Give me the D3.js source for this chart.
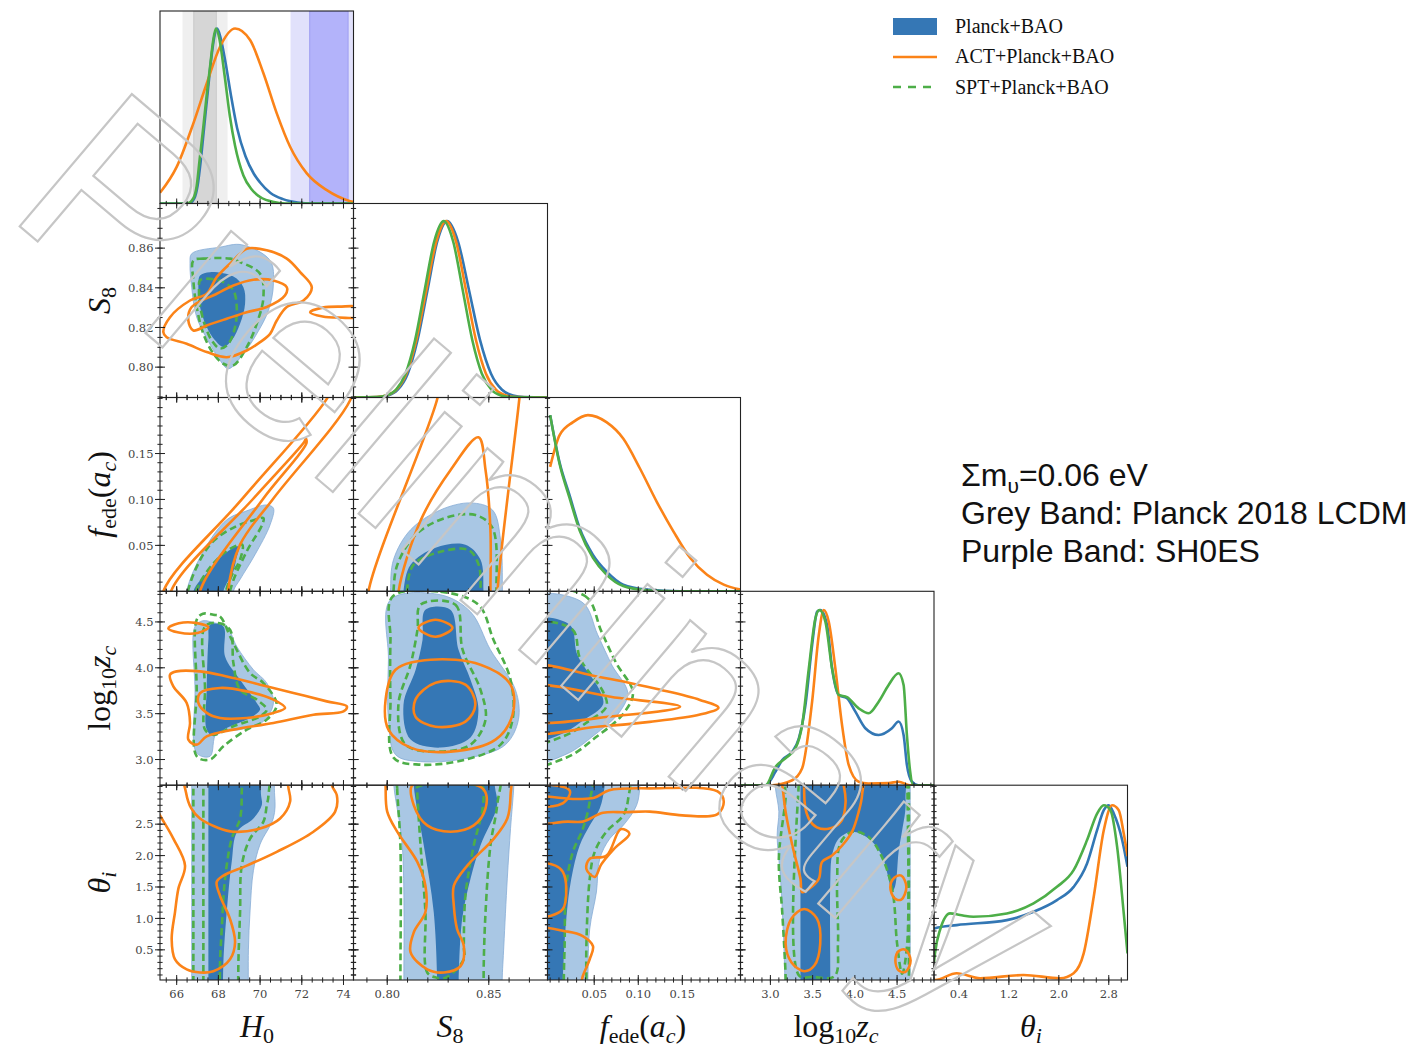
<!DOCTYPE html>
<html>
<head>
<meta charset="utf-8">
<script src="https://cdn.jsdelivr.net/npm/d3@7"></script>
<style>body{margin:0;background:#fff}</style>
</head>
<body>
<script>
// ---------- 1D marginals: [value, normalised density] ----------
var h0Blue = [[65.2,0],[66.6,0],[66.85,0.03],[67.0,0.1],[67.15,0.24],[67.32,0.44],[67.5,0.65],[67.65,0.82],[67.8,0.95],[67.94,1.0],[68.1,0.95],[68.35,0.8],[68.6,0.62],[68.9,0.43],[69.3,0.27],[69.7,0.17],[70.0,0.12],[70.5,0.06],[71.1,0.025],[71.8,0.006],[72.5,0],[74.5,0]];
var h0Orange = [[65.2,0.061],[66.0,0.209],[66.8,0.458],[67.44,0.686],[68.08,0.896],[68.8,1.0],[69.52,0.934],[70.16,0.744],[70.8,0.515],[71.44,0.324],[72.24,0.172],[73.2,0.076],[74.32,0.013],[74.48,0.008]];
var h0Green = [[65.2,0],[66.5,0],[66.8,0.03],[66.96,0.1],[67.1,0.25],[67.28,0.44],[67.45,0.63],[67.6,0.78],[67.75,0.93],[67.88,1.0],[68.05,0.94],[68.3,0.73],[68.55,0.5],[68.8,0.33],[69.2,0.16],[69.6,0.08],[70.1,0.03],[70.6,0.01],[71.2,0],[74.5,0]];

var s8Blue = [[0.7834,0],[0.7955,0.002],[0.8004,0.011],[0.8052,0.044],[0.8101,0.135],[0.8149,0.325],[0.8198,0.607],[0.8246,0.883],[0.8295,1.0],[0.8349,0.883],[0.8403,0.607],[0.8457,0.325],[0.8511,0.135],[0.8565,0.044],[0.8619,0.011],[0.8673,0.002],[0.8789,0]];
var s8Orange = [[0.7834,0],[0.7947,0.002],[0.7996,0.011],[0.8045,0.044],[0.8094,0.135],[0.8143,0.325],[0.8192,0.607],[0.8241,0.883],[0.8290,1.0],[0.8339,0.883],[0.8388,0.607],[0.8437,0.325],[0.8486,0.135],[0.8535,0.044],[0.8584,0.011],[0.8633,0.002],[0.8789,0]];
var s8Green = [[0.7834,0],[0.7950,0.002],[0.7996,0.011],[0.8043,0.044],[0.8090,0.135],[0.8137,0.325],[0.8184,0.607],[0.8231,0.883],[0.8278,1.0],[0.8325,0.883],[0.8372,0.607],[0.8419,0.325],[0.8466,0.135],[0.8513,0.044],[0.8560,0.011],[0.8607,0.002],[0.8789,0]];

var fedeBlue = [[0,1.0],[0.0106,0.734],[0.022,0.546],[0.0335,0.358],[0.0486,0.207],[0.0639,0.113],[0.0829,0.038],[0.1095,0.01],[0.1475,0.0],[0.216,0]];
var fedeOrange = [[0,0.706],[0.0106,0.885],[0.026,0.96],[0.0429,1.0],[0.0639,0.96],[0.0829,0.867],[0.1019,0.697],[0.121,0.508],[0.140,0.339],[0.159,0.189],[0.178,0.094],[0.197,0.038],[0.216,0.01]];
var fedeGreen = [[0,1.0],[0.0106,0.725],[0.022,0.53],[0.0335,0.345],[0.0486,0.19],[0.0639,0.095],[0.0829,0.03],[0.1095,0.006],[0.14,0.0],[0.216,0]];

var zcBlue = [[2.646,0],[2.943,0],[3.061,0.077],[3.14,0.143],[3.258,0.19],[3.337,0.266],[3.415,0.455],[3.494,0.795],[3.553,0.984],[3.592,0.994],[3.671,0.909],[3.73,0.663],[3.809,0.512],[3.907,0.493],[4.006,0.417],[4.124,0.323],[4.282,0.285],[4.439,0.323],[4.518,0.361],[4.577,0.285],[4.616,0.115],[4.675,0.02],[4.75,0],[4.937,0]];
var zcOrange = [[2.646,0],[3.02,0],[3.258,0.028],[3.376,0.096],[3.494,0.474],[3.573,0.852],[3.632,0.994],[3.691,0.927],[3.769,0.663],[3.848,0.342],[3.927,0.115],[4.045,0.02],[4.16,0.01],[4.40,0.012],[4.518,0.02],[4.65,0],[4.937,0]];
var zcGreen = [[2.646,0],[2.943,0],[3.061,0.105],[3.179,0.153],[3.297,0.21],[3.376,0.342],[3.455,0.663],[3.533,0.947],[3.58,0.994],[3.651,0.927],[3.73,0.663],[3.809,0.512],[3.907,0.50],[4.045,0.436],[4.164,0.408],[4.282,0.474],[4.40,0.569],[4.518,0.635],[4.577,0.569],[4.616,0.285],[4.655,0.077],[4.69,0],[4.937,0]];

var thBlue = [[0,0.29],[0.016,0.292],[0.364,0.31],[1.167,0.338],[1.595,0.385],[1.97,0.451],[2.237,0.526],[2.452,0.658],[2.613,0.846],[2.72,0.959],[2.80,0.987],[2.88,0.94],[3.015,0.79],[3.1,0.64]];
var thOrange = [[0,0],[0.016,0],[0.364,0.038],[0.739,0.01],[1.434,0.028],[2.024,0.01],[2.237,0.038],[2.398,0.15],[2.559,0.47],[2.72,0.846],[2.854,0.987],[2.96,0.959],[3.04,0.827],[3.1,0.70]];
var thGreen = [[0,0.1],[0.016,0.15],[0.096,0.282],[0.257,0.376],[0.418,0.367],[0.631,0.357],[1.167,0.376],[1.595,0.433],[1.97,0.526],[2.237,0.62],[2.452,0.79],[2.613,0.94],[2.72,0.987],[2.827,0.959],[2.934,0.752],[3.04,0.376],[3.1,0.15]];

// H0 bands: [mean, sigma]
var planckBand = [67.36, 0.54];
var sh0esBand = [73.3, 0.92];

// ---------- 2D contours: [x, y] closed curves ----------
// H0 - S8
var h0s8Blue = [
  [[66.72,0.8572],[68.08,0.8605],[69.12,0.8617],[70.48,0.8538],[70.64,0.8421],[70.40,0.8286],[69.84,0.8168],[69.20,0.8068],[68.48,0.7992],[68.08,0.8034],[67.68,0.8101],[66.96,0.8252],[66.72,0.8403],[66.64,0.8521]],
  [[67.12,0.8462],[67.60,0.8479],[68.72,0.8457],[69.20,0.8403],[69.28,0.8320],[69.04,0.8219],[68.64,0.8135],[68.24,0.8101],[67.84,0.8135],[67.44,0.8202],[67.12,0.8303],[67.04,0.8403]]];
var h0s8Green = [
  [[66.80,0.8538],[67.28,0.8547],[68.56,0.8547],[69.04,0.8530],[70.00,0.8471],[70.16,0.8353],[69.84,0.8219],[69.36,0.8101],[68.72,0.8009],[68.24,0.8017],[67.76,0.8068],[67.28,0.8168],[66.96,0.8303],[66.80,0.8437]],
  [[67.12,0.8437],[67.44,0.8446],[68.24,0.8429],[68.72,0.8387],[68.88,0.8303],[68.80,0.8202],[68.48,0.8118],[68.08,0.8094],[67.68,0.8135],[67.36,0.8210],[67.12,0.8311],[67.07,0.8387]]];
var h0s8Orange = [
  [[65.36,0.8177],[65.68,0.8252],[66.64,0.8336],[67.44,0.8370],[67.92,0.8454],[68.72,0.8538],[69.36,0.8597],[70.32,0.8589],[71.28,0.8547],[71.92,0.8479],[72.48,0.8403],[72.08,0.8336],[71.28,0.8303],[70.80,0.8235],[70.48,0.8168],[70.00,0.8126],[69.36,0.8084],[68.40,0.8050],[67.44,0.8076],[66.48,0.8118],[65.52,0.8151]],
  [[66.72,0.8303],[67.92,0.8370],[68.72,0.8412],[69.68,0.8441],[70.64,0.8437],[71.28,0.8403],[71.20,0.8362],[70.32,0.8303],[69.36,0.8277],[68.40,0.8244],[67.44,0.8210],[66.80,0.8185],[66.56,0.8235]],
  [[72.4,0.8277],[73.0,0.8300],[73.8,0.8305],[74.8,0.8300],[74.8,0.8255],[73.8,0.8250],[73.0,0.8255]]];

// H0 - fede
var h0FedeBlue = [
  [[66.48,-0.03],[66.48,0.0],[67.28,0.0435],[68.40,0.0778],[69.36,0.0876],[70.32,0.094],[70.64,0.0905],[70.48,0.0724],[69.76,0.040],[69.04,0.0129],[68.72,0.0],[68.72,-0.03]],
  [[66.80,-0.03],[66.80,0.0],[67.60,0.0237],[68.24,0.040],[68.96,0.0489],[68.85,0.0345],[68.72,0.0219],[68.24,0.0],[68.24,-0.03]]];
var h0FedeGreen = [
  [[66.54,-0.03],[66.54,0.0],[67.60,0.0508],[68.80,0.0702],[69.76,0.0778],[70.16,0.0797],[70.10,0.0724],[69.36,0.0435],[68.56,0.0],[68.56,-0.03]],
  [[66.93,-0.03],[66.93,0.0],[68.18,0.040],[69.14,0.0508],[69.04,0.0345],[68.66,0.0183],[68.37,0.0],[68.37,-0.03]]];
var h0FedeOrange = [
  [[65.36,-0.03],[65.36,0.0],[69.12,0.1],[73.20,0.2095],[73.7,0.235],[74.6,0.235],[74.32,0.208],[70.62,0.1005],[69.04,0.0508],[68.46,0.0],[68.46,-0.03]],
  [[65.73,-0.03],[65.73,0.0],[69.66,0.1005],[72.1,0.162],[72.2,0.166],[72.22,0.161],[70.14,0.1005],[67.12,0.0],[67.12,-0.03]]];

// H0 - log10 zc
var h0zcBlue = [
  [[67.84,4.488],[68.40,4.451],[68.88,4.233],[69.68,3.979],[70.32,3.834],[70.64,3.617],[70.16,3.416],[69.04,3.326],[67.92,3.290],[67.60,3.035],[66.96,3.071],[66.88,3.761],[66.88,4.451],[67.26,4.513]],
  [[67.60,4.469],[68.24,4.451],[68.32,4.124],[69.04,3.870],[69.84,3.617],[70.00,3.544],[69.52,3.453],[68.40,3.344],[67.76,3.253],[67.44,3.326],[67.44,3.761],[67.52,4.306]]];
var h0zcGreen = [
  [[67.76,4.578],[68.08,4.560],[68.64,4.306],[69.52,3.943],[70.16,3.834],[70.80,3.598],[70.32,3.435],[69.36,3.326],[68.24,3.144],[67.60,3.0],[66.96,3.035],[66.96,3.761],[66.96,4.524],[67.26,4.59]],
  [[67.36,4.451],[68.00,4.488],[68.56,4.415],[68.72,4.052],[69.04,3.761],[69.84,3.653],[70.32,3.544],[70.00,3.471],[68.72,3.362],[67.76,3.271],[67.36,3.326],[67.36,3.761]]];
var h0zcOrange = [
  [[65.68,3.925],[65.84,3.797],[66.48,3.617],[66.64,3.399],[66.56,3.217],[66.96,3.162],[67.44,3.253],[68.72,3.326],[70.64,3.399],[72.56,3.489],[74.0,3.525],[74.16,3.580],[73.20,3.634],[71.60,3.726],[70.00,3.816],[68.40,3.906],[67.12,3.961],[66.0,3.961]],
  [[67.12,3.725],[68.08,3.780],[69.36,3.743],[70.64,3.653],[71.20,3.562],[70.64,3.508],[69.36,3.453],[68.08,3.453],[67.44,3.508],[67.04,3.617]],
  [[65.60,4.43],[66.1,4.485],[66.9,4.49],[67.52,4.44],[67.0,4.38],[66.1,4.385]]];

// H0 - theta
var h0thBlue = [
  [[66.72,-0.3],[66.72,-0.2],[66.72,3.3],[66.72,3.4],[70.4,3.4],[70.7,2.95],[70.64,2.6],[70.0,2.18],[69.68,1.76],[69.52,1.12],[69.44,0.5],[69.44,-0.2],[69.44,-0.3]],
  [[67.52,-0.3],[67.52,-0.2],[67.52,3.3],[67.52,3.4],[69.8,3.4],[70.05,2.95],[70.08,2.8],[69.68,2.59],[68.9,2.38],[68.64,1.9],[68.40,1.1],[68.24,0.3],[68.22,-0.2],[68.22,-0.3]]];
var h0thGreen = [
  [[66.80,-0.3],[66.80,-0.2],[66.80,3.3],[66.80,3.4],[70.3,3.4],[70.4,2.95],[70.32,2.8],[70.16,2.54],[69.52,2.27],[69.12,1.84],[69.04,1.10],[68.96,0.3],[68.95,-0.2],[68.95,-0.3]],
  [[67.28,-0.3],[67.28,-0.2],[67.28,3.3],[67.28,3.4],[69.1,3.4],[69.12,3.02],[69.04,2.59],[68.64,2.27],[68.32,1.63],[68.16,0.83],[68.08,0.3],[68.07,-0.2],[68.07,-0.3]]];
var h0thOrange = [
  [[73.44,3.12],[73.68,2.96],[73.60,2.70],[72.56,2.38],[70.80,2.06],[69.36,1.84],[68.24,1.68],[67.92,1.58],[68.08,1.36],[68.56,0.99],[68.80,0.62],[68.56,0.35],[67.76,0.16],[67.12,0.14],[66.48,0.19],[65.92,0.35],[65.76,0.67],[65.92,1.10],[66.08,1.47],[66.40,1.84],[65.84,2.27],[65.2,2.64],[64.6,3.0],[64.6,3.5],[73.4,3.5]],
  [[66.4,3.4],[66.45,3.0],[66.7,2.75],[67.12,2.59],[68.0,2.44],[68.72,2.38],[70.0,2.43],[70.96,2.59],[71.44,2.86],[71.35,3.1],[71.3,3.4]]];

// S8 - fede
var s8FedeBlue = [
  [[0.8016,-0.03],[0.8016,0.0],[0.8031,0.0345],[0.8115,0.067],[0.8262,0.0886],[0.8410,0.0962],[0.8518,0.0886],[0.8558,0.056],[0.8567,0.0],[0.8567,-0.03]],
  [[0.8080,-0.03],[0.8080,0.0],[0.8115,0.029],[0.8238,0.0475],[0.8385,0.0508],[0.8459,0.0345],[0.8474,0.0],[0.8474,-0.03]]];
var s8FedeGreen = [
  [[0.8031,-0.03],[0.8031,0.0],[0.805,0.029],[0.814,0.0616],[0.8287,0.080],[0.8435,0.083],[0.8518,0.069],[0.8538,0.0],[0.8538,-0.03]],
  [[0.8097,-0.03],[0.8097,0.0],[0.813,0.029],[0.8262,0.043],[0.840,0.045],[0.845,0.029],[0.846,0.0],[0.846,-0.03]]];
var s8FedeOrange = [
  [[0.7908,-0.03],[0.7908,0.0],[0.8248,0.211],[0.826,0.235],[0.866,0.235],[0.8651,0.211],[0.8543,0.0],[0.8543,-0.03]],
  [[0.8056,-0.03],[0.8056,0.0],[0.8166,0.0778],[0.8312,0.132],[0.8449,0.1676],[0.8484,0.132],[0.8508,0.067],[0.8508,0.0],[0.8508,-0.03]]];

// S8 - log10 zc
var s8zcBlue = [
  [[0.8016,4.742],[0.8262,4.796],[0.8410,4.611],[0.8508,4.197],[0.8631,3.761],[0.8646,3.435],[0.8582,3.162],[0.8410,3.021],[0.8164,2.977],[0.8041,3.053],[0.8006,3.435],[0.8006,4.088]],
  [[0.8188,4.633],[0.8311,4.633],[0.8351,4.197],[0.8410,3.870],[0.8449,3.544],[0.8410,3.239],[0.8262,3.130],[0.8115,3.217],[0.8080,3.598],[0.8140,3.979],[0.8174,4.306]]];
var s8zcGreen = [
  [[0.8026,4.775],[0.8262,4.829],[0.8449,4.687],[0.8523,4.306],[0.8607,3.870],[0.8617,3.435],[0.8558,3.162],[0.8385,2.999],[0.8164,2.944],[0.8031,3.021],[0.8016,3.653],[0.8016,4.306]],
  [[0.8164,4.687],[0.8336,4.687],[0.8371,4.197],[0.8459,3.761],[0.8484,3.435],[0.8410,3.162],[0.8262,3.086],[0.8090,3.162],[0.8055,3.598],[0.8115,4.034],[0.8149,4.415]]];
var s8zcOrange = [
  [[0.7992,3.653],[0.8041,3.979],[0.8213,4.088],[0.8459,4.034],[0.8607,3.816],[0.8617,3.489],[0.8533,3.217],[0.8311,3.086],[0.8115,3.130],[0.8006,3.326]],
  [[0.8154,4.437],[0.8238,4.524],[0.8321,4.437],[0.8238,4.339]],
  [[0.8139,3.653],[0.8238,3.838],[0.8385,3.816],[0.8434,3.598],[0.8385,3.413],[0.8238,3.358],[0.8139,3.467]]];

// S8 - theta
var s8thBlue = [
  [[0.8030,3.4],[0.8033,3.1],[0.8074,2.16],[0.8082,0.03],[0.8082,-0.2],[0.8082,-0.3],[0.8566,-0.3],[0.8566,-0.2],[0.8566,0.03],[0.8574,0.56],[0.8591,1.63],[0.8607,2.43],[0.8623,3.1],[0.8625,3.4]],
  [[0.8131,3.4],[0.8131,3.1],[0.8180,2.16],[0.8229,1.10],[0.8246,0.03],[0.8246,-0.2],[0.8246,-0.3],[0.8352,-0.3],[0.8352,-0.2],[0.8352,0.03],[0.8369,0.99],[0.8410,1.63],[0.8459,2.16],[0.8541,2.80],[0.8530,3.1],[0.8525,3.4]]];
var s8thGreen = [
  [[0.8049,3.4],[0.8049,3.07],[0.8065,2.16],[0.8065,0.14],[0.8065,-0.2],[0.8065,-0.3],[0.8475,-0.3],[0.8475,-0.2],[0.8475,0.24],[0.8484,1.10],[0.8508,2.16],[0.8541,2.80],[0.8545,3.4]],
  [[0.8148,3.09],[0.8148,3.0],[0.8164,2.16],[0.8188,1.10],[0.8197,0.14],[0.8240,0.06],[0.8290,0.06],[0.8377,0.35],[0.8377,0.56],[0.8385,1.36],[0.8426,2.16],[0.8467,2.70],[0.8475,3.0],[0.8470,3.09]]];
var s8thOrange = [
  [[0.7990,3.4],[0.7992,3.12],[0.8000,2.70],[0.8049,2.38],[0.8148,1.90],[0.8188,1.52],[0.8188,1.10],[0.8131,0.78],[0.8115,0.46],[0.8197,0.19],[0.8279,0.14],[0.8361,0.24],[0.8377,0.56],[0.8344,0.83],[0.8328,1.20],[0.8328,1.52],[0.8394,1.84],[0.8525,2.27],[0.8591,2.59],[0.8607,2.96],[0.8595,3.4]],
  [[0.8123,3.12],[0.8131,2.80],[0.8197,2.48],[0.8312,2.38],[0.8426,2.48],[0.8484,2.75],[0.8475,3.05],[0.8300,3.2]]];

// fede - log10 zc
var fedeZcBlue = [
  [[-0.03,4.74],[0.0357,4.72],[0.054,4.36],[0.070,4.03],[0.088,3.73],[0.079,3.52],[0.0506,3.27],[0.0164,3.05],[-0.03,2.97]],
  [[-0.03,4.5],[0.022,4.47],[0.031,4.14],[0.056,3.76],[0.060,3.60],[0.039,3.435],[0.011,3.27],[-0.03,3.195]]];
var fedeZcGreen = [
  [[-0.03,4.80],[0.04,4.78],[0.058,4.40],[0.075,4.05],[0.094,3.73],[0.083,3.50],[0.053,3.25],[0.018,3.02],[-0.03,2.95]],
  [[-0.03,4.45],[0.025,4.42],[0.034,4.10],[0.060,3.74],[0.064,3.58],[0.044,3.42],[0.014,3.25],[-0.03,3.18]]];
var fedeZcOrange = [
  [[-0.03,4.0],[0.056,3.90],[0.125,3.76],[0.170,3.65],[0.191,3.565],[0.170,3.49],[0.113,3.41],[0.056,3.36],[-0.03,3.33]],
  [[-0.03,3.78],[0.079,3.67],[0.1475,3.576],[0.079,3.48],[-0.03,3.45]]];

// fede - theta
var fedeThBlue = [
  [[-0.03,-0.3],[-0.03,-0.2],[-0.03,3.3],[-0.03,3.4],[0.102,3.4],[0.1019,3.12],[0.0981,2.80],[0.0829,2.48],[0.0677,2.27],[0.0563,1.95],[0.0525,1.42],[0.0449,0.83],[0.0429,0.03],[0.0429,-0.2],[0.0429,-0.3]],
  [[-0.03,-0.3],[-0.03,-0.2],[-0.03,3.3],[-0.03,3.4],[0.063,3.4],[0.062,3.12],[0.0563,2.75],[0.0449,2.48],[0.0335,2.16],[0.024,1.63],[0.0183,0.99],[0.0145,0.03],[0.0145,-0.2],[0.0145,-0.3]]];
var fedeThGreen = [
  [[-0.03,-0.3],[-0.03,-0.2],[-0.03,3.3],[-0.03,3.4],[0.088,3.4],[0.0886,2.91],[0.0829,2.64],[0.0639,2.38],[0.0506,2.06],[0.0449,1.63],[0.0411,0.56],[0.0411,0.03],[0.0411,-0.2],[0.0411,-0.3]],
  [[-0.03,-0.3],[-0.03,-0.2],[-0.03,3.3],[-0.03,3.4],[0.046,3.4],[0.0449,2.86],[0.0372,2.43],[0.0258,2.06],[0.0183,1.52],[0.0164,0.56],[0.0155,0.03],[0.0155,-0.2],[0.0155,-0.3]]];
var fedeThOrange = [
  [[-0.03,2.53],[0.02,2.54],[0.037,2.54],[0.06,2.68],[0.085,2.69],[0.113,2.70],[0.15,2.64],[0.19,2.66],[0.197,2.86],[0.19,3.02],[0.113,3.07],[0.067,3.04],[0.05,2.92],[0.03,2.9],[-0.03,2.9]],
  [[-0.03,1.86],[0.006,1.84],[0.0144,1.74],[0.0183,1.47],[0.0144,1.15],[0.0,1.04],[-0.03,1.03]],
  [[-0.03,0.81],[0.02,0.79],[0.037,0.72],[0.0486,0.56],[0.0449,0.35],[0.037,0.08],[0.03,-0.3],[-0.03,-0.3]],
  [[-0.03,3.10],[0.022,3.04],[0.0183,2.88],[0.0088,2.80],[-0.03,2.83]],
  [[0.064,2.0],[0.045,1.95],[0.041,1.79],[0.0506,1.66],[0.058,1.86],[0.072,2.1],[0.09,2.35],[0.08,2.42]]];

// log10 zc - theta
var zcThBlue = [
  [[3.05,3.4],[3.06,3.07],[3.10,2.70],[3.08,2.32],[3.12,1.63],[3.16,0.56],[3.17,0.03],[3.17,-0.2],[3.17,-0.3],[4.655,-0.3],[4.655,-0.2],[4.655,3.3],[4.655,3.4]],
  [[3.356,-0.3],[3.356,-0.2],[3.356,3.3],[3.356,3.4],[4.55,3.4],[4.60,2.9],[4.596,2.70],[4.557,2.38],[4.518,2.06],[4.478,1.52],[4.439,1.42],[4.40,1.63],[4.32,2.0],[4.164,2.27],[3.967,2.38],[3.81,2.27],[3.73,2.0],[3.71,1.63],[3.71,0.03],[3.71,-0.2],[3.71,-0.3]]];
var zcThGreen = [
  [[3.20,3.4],[3.18,2.91],[3.10,1.95],[3.14,1.10],[3.18,0.08],[3.18,-0.2],[3.18,-0.3],[4.64,-0.3],[4.64,-0.2],[4.64,3.3],[4.64,3.4]],
  [[3.34,3.4],[3.34,3.3],[3.34,0.09],[3.5,0.07],[3.76,0.08],[3.80,0.6],[3.79,1.6],[3.83,2.2],[3.97,2.38],[4.16,2.3],[4.33,1.95],[4.45,1.4],[4.5,0.6],[4.56,0.12],[4.62,0.6],[4.62,3.3],[4.62,3.4]]];
var zcThOrange = [
  [[3.10,3.4],[3.14,3.12],[3.18,2.70],[3.26,2.16],[3.356,1.63],[3.376,1.42],[3.455,1.47],[3.573,1.63],[3.612,1.90],[3.73,2.0],[3.85,2.16],[3.967,2.38],[4.046,2.70],[4.085,2.96],[4.07,3.4]],
  [[3.18,0.6],[3.25,1.0],[3.40,1.15],[3.55,1.0],[3.59,0.6],[3.52,0.25],[3.40,0.16],[3.25,0.3]],
  [[4.42,1.5],[4.47,1.65],[4.55,1.68],[4.61,1.5],[4.55,1.30],[4.47,1.32]],
  [[4.48,0.33],[4.52,0.48],[4.60,0.50],[4.66,0.33],[4.60,0.15],[4.52,0.17]],
  [[3.40,3.0],[3.45,2.6],[3.55,2.45],[3.70,2.43],[3.84,2.55],[3.89,2.85],[3.87,3.1],[3.8,3.4],[3.45,3.4]]];

// ---------- axes ----------
var xDomains = [[65.2,74.48],[0.7834,0.8789],[-0.003,0.216],[2.646,4.937],[0,3.1]];
var yDomains = [null,[0.7847,0.8825],[0,0.211],[2.72,4.834],[0.02,3.12]];
var xTickVals = [[66,68,70,72,74],[0.80,0.85],[0.05,0.10,0.15],[3.0,3.5,4.0,4.5],[0.4,1.2,2.0,2.8]];
var yTickVals = [null,[0.80,0.82,0.84,0.86],[0.05,0.10,0.15],[3.0,3.5,4.0,4.5],[0.5,1.0,1.5,2.0,2.5]];
var xMinor = [0.5,0.01,0.01,0.1,0.2];
var yMinor = [null,0.005,0.01,0.1,0.1];
var xFmt = ["d",".2f",".2f",".1f",".1f"];
var yFmt = [null,".2f",".2f",".1f",".1f"];
var legendNames = ["Planck+BAO","ACT+Planck+BAO","SPT+Planck+BAO"];

var colEdges = [160, 353.5, 547.5, 740.5, 934, 1127.5];
var rowEdges = [11, 203.5, 397.5, 591.3, 785.2, 980];

var cDark = "#3577b5", cLight = "#a9c7e4", cOrange = "#fb8318", cGreen = "#4dae48", cBlueLine = "#3377b4";
var serif = "'Liberation Serif','Times New Roman',serif";
var tickFont = "'DejaVu Serif',serif";

var svg = d3.select("body").append("svg").attr("width",1412).attr("height",1050)
  .style("font-family", serif);
var defs = svg.append("defs");

var xs = xDomains.map(function(d,j){ return d3.scaleLinear().domain(d).range([colEdges[j], colEdges[j+1]]); });
var ys = yDomains.map(function(d,i){ return d ? d3.scaleLinear().domain(d).range([rowEdges[i+1], rowEdges[i]]) : null; });

function clipFor(r, c) {
  var id = "clip" + r + "_" + c;
  defs.append("clipPath").attr("id", id).append("rect")
    .attr("x", colEdges[c]).attr("y", rowEdges[r])
    .attr("width", colEdges[c+1]-colEdges[c]).attr("height", rowEdges[r+1]-rowEdges[r]);
  return "url(#" + id + ")";
}

function ticks(g, scale, major, step, horiz, at) {
  var d = scale.domain();
  var minor = d3.range(Math.ceil(d[0]/step - 1e-6), Math.floor(d[1]/step + 1e-6) + 1).map(function(k){ return k*step; });
  function put(vals, L) {
    vals.forEach(function(v){
      var p = scale(v);
      var ln = g.append("line").attr("stroke","#222").attr("stroke-width",1);
      if (horiz) ln.attr("x1",p).attr("x2",p).attr("y1",at-L).attr("y2",at+L);
      else ln.attr("y1",p).attr("y2",p).attr("x1",at-L).attr("x2",at+L);
    });
  }
  put(minor, 2.6);
  put(major, 5);
}

function frame(g, r, c) {
  g.append("rect").attr("x",colEdges[c]).attr("y",rowEdges[r])
    .attr("width",colEdges[c+1]-colEdges[c]).attr("height",rowEdges[r+1]-rowEdges[r])
    .attr("fill","none").attr("stroke","#222").attr("stroke-width",1.1);
}

// ---------- 1D panels ----------
var marg = [
  [h0Blue, h0Orange, h0Green],
  [s8Blue, s8Orange, s8Green],
  [fedeBlue, fedeOrange, fedeGreen],
  [zcBlue, zcOrange, zcGreen],
  [thBlue, thOrange, thGreen]
];
marg.forEach(function(m, k){
  var x = xs[k];
  var y = d3.scaleLinear().domain([0,1.1]).range([rowEdges[k+1], rowEdges[k]]);
  var g = svg.append("g");
  var body = g.append("g").attr("clip-path", clipFor(k,k));
  if (k === 0) {
    [[planckBand, "#efefef", "#d6d6d6", "#cacaca"], [sh0esBand, "#e1e1fb", "#b3b3fa", "#9d9df2"]].forEach(function(b){
      var m0 = b[0][0], s = b[0][1];
      body.append("rect").attr("x", x(m0-2*s)).attr("width", x(m0+2*s)-x(m0-2*s))
        .attr("y", rowEdges[0]).attr("height", rowEdges[1]-rowEdges[0]).attr("fill", b[1]);
      body.append("rect").attr("x", x(m0-s)).attr("width", x(m0+s)-x(m0-s))
        .attr("y", rowEdges[0]).attr("height", rowEdges[1]-rowEdges[0]).attr("fill", b[2])
        .attr("stroke", b[3]).attr("stroke-width",1);
    });
  }
  var line = d3.line().x(function(d){ return x(d[0]); }).y(function(d){ return y(d[1]); }).curve(d3.curveMonotoneX);
  [[m[0], cBlueLine], [m[1], cOrange], [m[2], cGreen]].forEach(function(s){
    body.append("path").attr("d", line(s[0])).attr("fill","none")
      .attr("stroke", s[1]).attr("stroke-width", 2.6);
  });
  frame(g, k, k);
  if (k === 4) ticks(g, x, xTickVals[4], xMinor[4], true, rowEdges[5]);
});

// ---------- 2D panels ----------
var panels = [
  {r:1, c:0, blue:h0s8Blue, green:h0s8Green, orange:h0s8Orange},
  {r:2, c:0, blue:h0FedeBlue, green:h0FedeGreen, orange:h0FedeOrange},
  {r:3, c:0, blue:h0zcBlue, green:h0zcGreen, orange:h0zcOrange},
  {r:4, c:0, blue:h0thBlue, green:h0thGreen, orange:h0thOrange},
  {r:2, c:1, blue:s8FedeBlue, green:s8FedeGreen, orange:s8FedeOrange},
  {r:3, c:1, blue:s8zcBlue, green:s8zcGreen, orange:s8zcOrange},
  {r:4, c:1, blue:s8thBlue, green:s8thGreen, orange:s8thOrange},
  {r:3, c:2, blue:fedeZcBlue, green:fedeZcGreen, orange:fedeZcOrange},
  {r:4, c:2, blue:fedeThBlue, green:fedeThGreen, orange:fedeThOrange},
  {r:4, c:3, blue:zcThBlue, green:zcThGreen, orange:zcThOrange}
];
panels.forEach(function(p){
  var x = xs[p.c], y = ys[p.r];
  var g = svg.append("g");
  var body = g.append("g").attr("clip-path", clipFor(p.r, p.c));
  var line = d3.line().x(function(d){ return x(d[0]); }).y(function(d){ return y(d[1]); })
    .curve(d3.curveCatmullRomClosed.alpha(0.5));
  body.append("path").attr("d", line(p.blue[0])).attr("fill", cLight)
    .attr("stroke", "#86acd6").attr("stroke-width", 0.8);
  body.append("path").attr("d", line(p.blue[1])).attr("fill", cDark);
  p.green.forEach(function(c){
    body.append("path").attr("d", line(c)).attr("fill","none").attr("stroke", cGreen)
      .attr("stroke-width", 2.6).attr("stroke-dasharray", "7,4");
  });
  p.orange.forEach(function(c){
    body.append("path").attr("d", line(c)).attr("fill","none").attr("stroke", cOrange)
      .attr("stroke-width", 2.6);
  });
  frame(g, p.r, p.c);
  ticks(g, x, xTickVals[p.c], xMinor[p.c], true, rowEdges[p.r+1]);
  ticks(g, x, xTickVals[p.c], xMinor[p.c], true, rowEdges[p.r]);
  ticks(g, y, yTickVals[p.r], yMinor[p.r], false, colEdges[p.c]);
  ticks(g, y, yTickVals[p.r], yMinor[p.r], false, colEdges[p.c+1]);
});

// ---------- tick labels ----------
xs.forEach(function(x, j){
  var f = d3.format(xFmt[j]);
  xTickVals[j].forEach(function(v){
    svg.append("text").attr("x", x(v)).attr("y", 998).attr("text-anchor","middle")
      .attr("font-family", tickFont).attr("font-size", 11.5).attr("fill","#444").text(f(v));
  });
});
ys.forEach(function(y, i){
  if (!y) return;
  var f = d3.format(yFmt[i]);
  yTickVals[i].forEach(function(v){
    svg.append("text").attr("x", 153.5).attr("y", y(v) + 4.2).attr("text-anchor","end")
      .attr("font-family", tickFont).attr("font-size", 11.5).attr("fill","#444").text(f(v));
  });
});

// ---------- axis titles: [text, italic, subscript] ----------
var titleParts = [
  [["H",1,0],["0",0,1]],
  [["S",1,0],["8",0,1]],
  [["f",1,0],["ede",0,1],["(",0,0],["a",1,0],["c",1,1],[")",0,0]],
  [["log",0,0],["10",0,1],["z",1,0],["c",1,1]],
  [["θ",1,0],["i",1,1]]
];
function title(t, parts) {
  var prevSub = 0;
  parts.forEach(function(pt){
    var s = t.append("tspan").text(pt[0]);
    if (pt[1]) s.attr("font-style","italic");
    if (pt[2]) s.attr("font-size", 22);
    if (pt[2] !== prevSub) s.attr("dy", pt[2] ? 6 : -6);
    prevSub = pt[2];
  });
}
var colCenters = [257, 450, 643, 836, 1031];
titleParts.forEach(function(tp, j){
  var t = svg.append("text").attr("x", colCenters[j]).attr("y", 1037).attr("text-anchor","middle")
    .attr("font-size", 32).attr("fill","#111");
  title(t, tp);
  if (j > 0) {
    var yc = (rowEdges[j] + rowEdges[j+1]) / 2;
    var t2 = svg.append("text").attr("transform","translate(110," + yc + ") rotate(-90)")
      .attr("text-anchor","middle").attr("font-size", 32).attr("fill","#111");
    title(t2, tp);
  }
});

// ---------- legend ----------
var lg = svg.append("g");
lg.append("rect").attr("x",893).attr("y",18).attr("width",44).attr("height",17).attr("fill",cDark);
lg.append("line").attr("x1",893).attr("x2",937).attr("y1",57).attr("y2",57).attr("stroke",cOrange).attr("stroke-width",2.6);
lg.append("line").attr("x1",893).attr("x2",937).attr("y1",87).attr("y2",87).attr("stroke",cGreen)
  .attr("stroke-width",2.6).attr("stroke-dasharray","8,7");
legendNames.forEach(function(n, i){
  lg.append("text").attr("x",955).attr("y",33 + i*30.3).attr("font-size",20).attr("fill","#111").text(n);
});

// ---------- annotation ----------
var sans = "'Liberation Sans',Arial,sans-serif";
var a1 = svg.append("text").attr("x",961).attr("y",486).attr("font-family",sans).attr("font-size",32).attr("fill","#111");
a1.append("tspan").text("Σm");
a1.append("tspan").attr("font-size",21).attr("dy",7).text("υ");
a1.append("tspan").attr("dy",-7).text("=0.06 eV");
svg.append("text").attr("x",961).attr("y",524).attr("font-family",sans).attr("font-size",32).attr("fill","#111")
  .text("Grey Band: Planck 2018 LCDM");
svg.append("text").attr("x",961).attr("y",562).attr("font-family",sans).attr("font-size",32).attr("fill","#111")
  .text("Purple Band: SH0ES");

// ---------- watermark ----------
svg.append("text").attr("transform","translate(4,213) rotate(40.3)")
  .attr("font-family",sans).attr("font-size",252).attr("fill","none")
  .attr("stroke","#c6c6c6").attr("stroke-width",2.2).text("Preliminary");
</script>
</body>
</html>
